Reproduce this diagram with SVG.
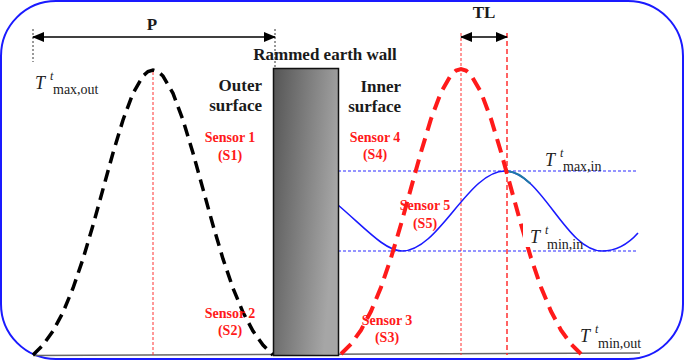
<svg xmlns="http://www.w3.org/2000/svg" width="685" height="361" viewBox="0 0 685 361">
<style>
.lbl{font-family:"Liberation Serif","Times New Roman",serif;font-weight:bold;font-size:17px;fill:#1a1a1a}
.sen{font-family:"Liberation Serif","Times New Roman",serif;font-weight:bold;font-size:14px;fill:#ff1a1a;text-anchor:middle}
.mT{font-family:"Liberation Serif","DejaVu Serif",serif;font-style:italic;font-size:18px;fill:#222}
.mt{font-family:"Liberation Serif","DejaVu Serif",serif;font-style:italic;font-size:12px;fill:#222}
.ms{font-family:"Liberation Serif","DejaVu Serif",serif;font-size:14px;fill:#222}
.bell-k{fill:none;stroke:#000;stroke-width:3.5;stroke-dasharray:12 7}
.bell-r{fill:none;stroke:#ff1a1a;stroke-width:4;stroke-dasharray:14 8}
.vr{stroke:#ff3030;stroke-width:1;stroke-dasharray:3 2}
.vk{stroke:#000;stroke-width:0.8;stroke-dasharray:2 2}
.hb{stroke:#2a2aff;stroke-width:1;stroke-dasharray:3 2}
.arr{stroke:#000;stroke-width:1.5;marker-start:url(#ah);marker-end:url(#ah)}
</style>
<defs>
<marker id="ah" markerUnits="userSpaceOnUse" markerWidth="12" markerHeight="10" refX="11" refY="5" orient="auto-start-reverse">
<path d="M0,0 L12,5 L0,10 Z" fill="#000"/>
</marker>
<linearGradient id="wallg" x1="0" y1="0" x2="1" y2="0.35">
<stop offset="0" stop-color="#555"/>
<stop offset="1" stop-color="#a6a6a6"/>
</linearGradient>
</defs>
<rect x="1" y="1" width="682" height="358" rx="55" ry="55" fill="#fff" stroke="#1a1aff" stroke-width="2"/>
<g id="connectors">
<line x1="33" y1="355.5" x2="640" y2="353" stroke="#666" stroke-width="1.5"/>
<line class="vk" x1="33" y1="29" x2="33" y2="62"/>
<line class="vk" x1="275" y1="29" x2="275" y2="68"/>
<line class="arr" x1="33" y1="37" x2="275" y2="37"/>
<line class="vr" x1="153" y1="72" x2="153" y2="355"/>
<line class="vr" x1="461" y1="33" x2="461" y2="355"/>
<line class="vr" x1="507" y1="33" x2="507" y2="355" style="stroke-width:1.5;stroke-dasharray:5 3"/>
<line class="arr" x1="461" y1="37" x2="507" y2="37"/>
<line class="hb" x1="338" y1="171" x2="638" y2="171"/>
<line class="hb" x1="338" y1="251" x2="638" y2="251"/>
<path d="M338,205 C365,228 385,251 402,251 C439,251 468,171 505,171 C541,171 566,251 602,251 C618,251 630,242 638,233" fill="none" stroke="#1a1aff" stroke-width="1.6"/>
<path d="M507,171.2 C514,171 522.3,176 530.3,183.5" fill="none" stroke="#1f78a8" stroke-width="2"/>
<path class="bell-k" d="M33,355 L43,345.1 L53,331.1 L63,312.3 L73,288.2 L83,258.9 L93,225.3 L103,189.1 L113,153 L123,120 L133,93.3 L143,76 L148,71.5 L153,70 L158,71.5 L163,76 L173,93.3 L183,120 L193,153 L203,189.1 L213,225.3 L223,258.9 L233,288.2 L243,312.3 L253,331.1 L263,345.1 L273,355"/>
<path class="bell-r" d="M341,354 L351,344.1 L361,330.1 L371,311.3 L381,287.2 L391,257.9 L401,224.3 L411,188.1 L421,152 L431,119 L441,92.3 L451,75 L456,70.5 L461,69 L466,70.5 L471,75 L481,92.3 L491,119 L501,152 L511,188.1 L521,224.3 L531,257.9 L541,287.2 L551,311.3 L561,330.1 L571,344.1 L581,354"/>
</g>
<g id="wall">
<rect x="273.5" y="68.5" width="65" height="287" fill="url(#wallg)" stroke="#111" stroke-width="1.5"/>
<text class="lbl" x="325" y="60" text-anchor="middle">Rammed earth wall</text>
</g>
<g id="labels">
<text class="lbl" x="152" y="30" text-anchor="middle">P</text>
<text class="lbl" x="484" y="18" text-anchor="middle">TL</text>
<text class="lbl" x="262" y="91" text-anchor="end">Outer</text>
<text class="lbl" x="262" y="111" text-anchor="end">surface</text>
<text class="lbl" x="401" y="92" text-anchor="end">Inner</text>
<text class="lbl" x="401" y="112" text-anchor="end">surface</text>
</g>
<g id="sensor1"><text class="sen" x="230" y="142">Sensor 1</text><text class="sen" x="230" y="160">(S1)</text></g>
<g id="sensor2"><text class="sen" x="230" y="318">Sensor 2</text><text class="sen" x="230" y="335">(S2)</text></g>
<g id="sensor3"><text class="sen" x="387" y="325">Sensor 3</text><text class="sen" x="387" y="342">(S3)</text></g>
<g id="sensor4"><text class="sen" x="375" y="142">Sensor 4</text><text class="sen" x="375" y="159">(S4)</text></g>
<g id="sensor5"><text class="sen" x="425" y="210">Sensor 5</text><text class="sen" x="425" y="228">(S5)</text></g>
<g id="tmaxout"><text class="mT" x="35" y="89">T</text><text class="mt" x="50" y="80">t</text><text class="ms" x="53" y="94">max,out</text></g>
<g id="tmaxin"><text class="mT" x="545" y="166">T</text><text class="mt" x="560" y="157">t</text><text class="ms" x="563" y="171">max,in</text></g>
<g id="tminin"><rect x="523" y="221" width="30" height="26" fill="#fff"/><text class="mT" x="530" y="243">T</text><text class="mt" x="545" y="234">t</text><text class="ms" x="547" y="249">min,in</text></g>
<g id="tminout"><text class="mT" x="580" y="342">T</text><text class="mt" x="595" y="333">t</text><text class="ms" x="598" y="348">min,out</text></g>
</svg>
